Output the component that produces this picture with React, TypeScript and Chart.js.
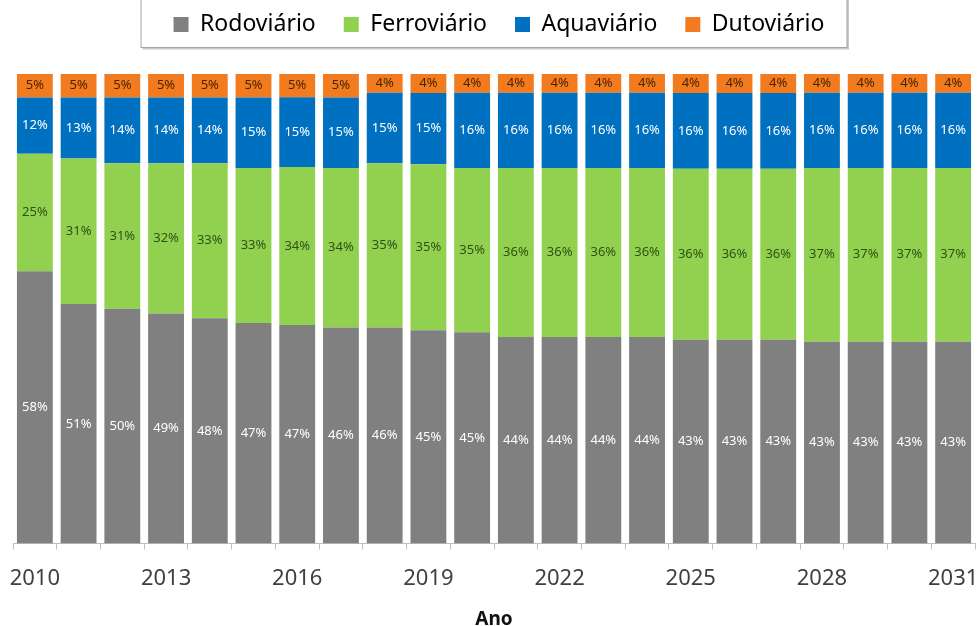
import React, { useEffect, useRef } from 'react';
import { Chart, registerables } from 'chart.js';

Chart.register(...registerables);

const years = ['2010', '2011', '2012', '2013', '2014', '2015', '2016', '2017', '2018', '2019', '2020',
  '2021', '2022', '2023', '2024', '2025', '2026', '2027', '2028', '2029', '2030', '2031'];
const rodoviario = [58, 51, 50, 49, 48, 47, 47, 46, 46, 45, 45, 44, 44, 44, 44, 43, 43, 43, 43, 43, 43, 43];
const ferroviario = [25, 31, 31, 32, 33, 33, 34, 34, 35, 35, 35, 36, 36, 36, 36, 36, 36, 36, 37, 37, 37, 37];
const aquaviario = [12, 13, 14, 14, 14, 15, 15, 15, 15, 15, 16, 16, 16, 16, 16, 16, 16, 16, 16, 16, 16, 16];
const dutoviario = [5, 5, 5, 5, 5, 5, 5, 5, 4, 4, 4, 4, 4, 4, 4, 4, 4, 4, 4, 4, 4, 4];

const seriesNames = ['Rodoviário', 'Ferroviário', 'Aquaviário', 'Dutoviário'];
const seriesValues = [rodoviario, ferroviario, aquaviario, dutoviario];
const seriesColors = ['#808080', '#92d050', '#0070c0', '#f27b1f'];
const labelColors = ['#ffffff', '#2e5214', '#ffffff', '#4a2400'];

const FONT = "'Noto Sans', 'Open Sans', sans-serif";
const LEGEND_SHIFT_X = 5;
const LEGEND_SHIFT_Y = 5;

const totals = years.map((_, i) => seriesValues.reduce((s, arr) => s + arr[i], 0));

const legendPatchPlugin = {
  id: 'legendPatch',
  beforeLayout(chart: any) {
    const lg = chart.legend;
    if (lg && !lg._patched) {
      const origFit = lg.fit.bind(lg);
      lg.fit = function () {
        origFit();
        this.height = 94;
      };
      const origDraw = lg.draw.bind(lg);
      lg.draw = function () {
        const ctx = this.ctx;
        ctx.save();
        ctx.translate(LEGEND_SHIFT_X, LEGEND_SHIFT_Y);
        origDraw();
        ctx.restore();
      };
      lg._patched = true;
    }
  },
};

const legendFramePlugin = {
  id: 'legendFrame',
  afterDraw(chart: any) {
    const lg = chart.legend;
    if (!lg || !lg.legendHitBoxes || !lg.legendHitBoxes.length) return;
    const hb = lg.legendHitBoxes;
    const minX = Math.min(...hb.map((h: any) => h.left)) + LEGEND_SHIFT_X;
    const maxX = Math.max(...hb.map((h: any) => h.left + h.width)) + LEGEND_SHIFT_X;
    const bottom = Math.max(...hb.map((h: any) => h.top + h.height)) + LEGEND_SHIFT_Y;
    const ctx = chart.ctx;
    const x0 = minX - 33;
    const x1 = maxX + 22;
    const y0 = -3;
    const y1 = bottom + 11;
    ctx.save();
    ctx.strokeStyle = '#c8c8c8';
    ctx.lineWidth = 2;
    ctx.beginPath();
    ctx.moveTo(x0 + 2, y1 + 1.5);
    ctx.lineTo(x1 + 1.5, y1 + 1.5);
    ctx.lineTo(x1 + 1.5, y0);
    ctx.stroke();
    ctx.strokeStyle = '#a6a6a6';
    ctx.lineWidth = 1;
    ctx.strokeRect(x0 + 0.5, y0 + 0.5, x1 - x0, y1 - y0);
    ctx.restore();
  },
};

const barLabelPlugin = {
  id: 'barLabels',
  afterDatasetsDraw(chart: any) {
    const ctx = chart.ctx;
    ctx.save();
    ctx.font = `13px ${FONT}`;
    ctx.textAlign = 'center';
    ctx.textBaseline = 'middle';
    chart.data.datasets.forEach((_ds: any, di: number) => {
      const meta = chart.getDatasetMeta(di);
      meta.data.forEach((bar: any, i: number) => {
        const yMid = (bar.y + bar.base) / 2;
        ctx.fillStyle = labelColors[di];
        ctx.fillText(`${seriesValues[di][i]}%`, bar.x, yMid);
      });
    });
    ctx.restore();
  },
};

export default function App() {
  const ref = useRef<HTMLCanvasElement | null>(null);

  useEffect(() => {
    if (!ref.current) return;
    const chart = new Chart(ref.current, {
      type: 'bar',
      data: {
        labels: years,
        datasets: seriesNames.map((name, si) => ({
          label: name,
          data: seriesValues[si].map((v, i) => (v / totals[i]) * 100),
          backgroundColor: seriesColors[si],
          borderWidth: 0,
          barPercentage: 0.82,
          categoryPercentage: 1,
        })),
      },
      options: {
        responsive: false,
        animation: false,
        layout: { padding: { top: -20, left: 13, right: 5, bottom: 0 } },
        plugins: {
          legend: {
            position: 'top',
            labels: {
              boxWidth: 15,
              boxHeight: 15,
              padding: 28,
              color: '#000000',
              font: { family: FONT, size: 23 },
            },
          },
          tooltip: { enabled: false },
          title: { display: false },
        },
        scales: {
          x: {
            stacked: true,
            offset: true,
            afterFit: (scale: any) => {
              scale.paddingLeft = 0;
              scale.paddingRight = 0;
            },
            grid: {
              display: true,
              drawOnChartArea: false,
              drawTicks: true,
              tickLength: 6,
              offset: true,
              color: '#bfbfbf',
            },
            border: { display: true, color: '#bfbfbf' },
            ticks: {
              autoSkip: false,
              maxRotation: 0,
              minRotation: 0,
              padding: 16,
              color: '#404040',
              font: { family: FONT, size: 22 },
              callback: (_v: any, idx: number) => (idx % 3 === 0 ? years[idx] : ''),
            },
            title: {
              display: true,
              text: 'Ano',
              color: '#111111',
              font: { family: FONT, size: 19, weight: 'bold', lineHeight: 1 },
              padding: { top: 2, bottom: -3 },
            },
          },
          y: {
            stacked: true,
            display: false,
            min: 0,
            max: 100,
          },
        },
      },
      plugins: [legendPatchPlugin, legendFramePlugin, barLabelPlugin],
    } as any);
    return () => chart.destroy();
  }, []);

  return (
    <div style={{ position: 'absolute', left: 0, top: 0, width: 980, height: 626, background: '#ffffff' }}>
      <canvas ref={ref} width={980} height={626} style={{ display: 'block' }} />
    </div>
  );
}
